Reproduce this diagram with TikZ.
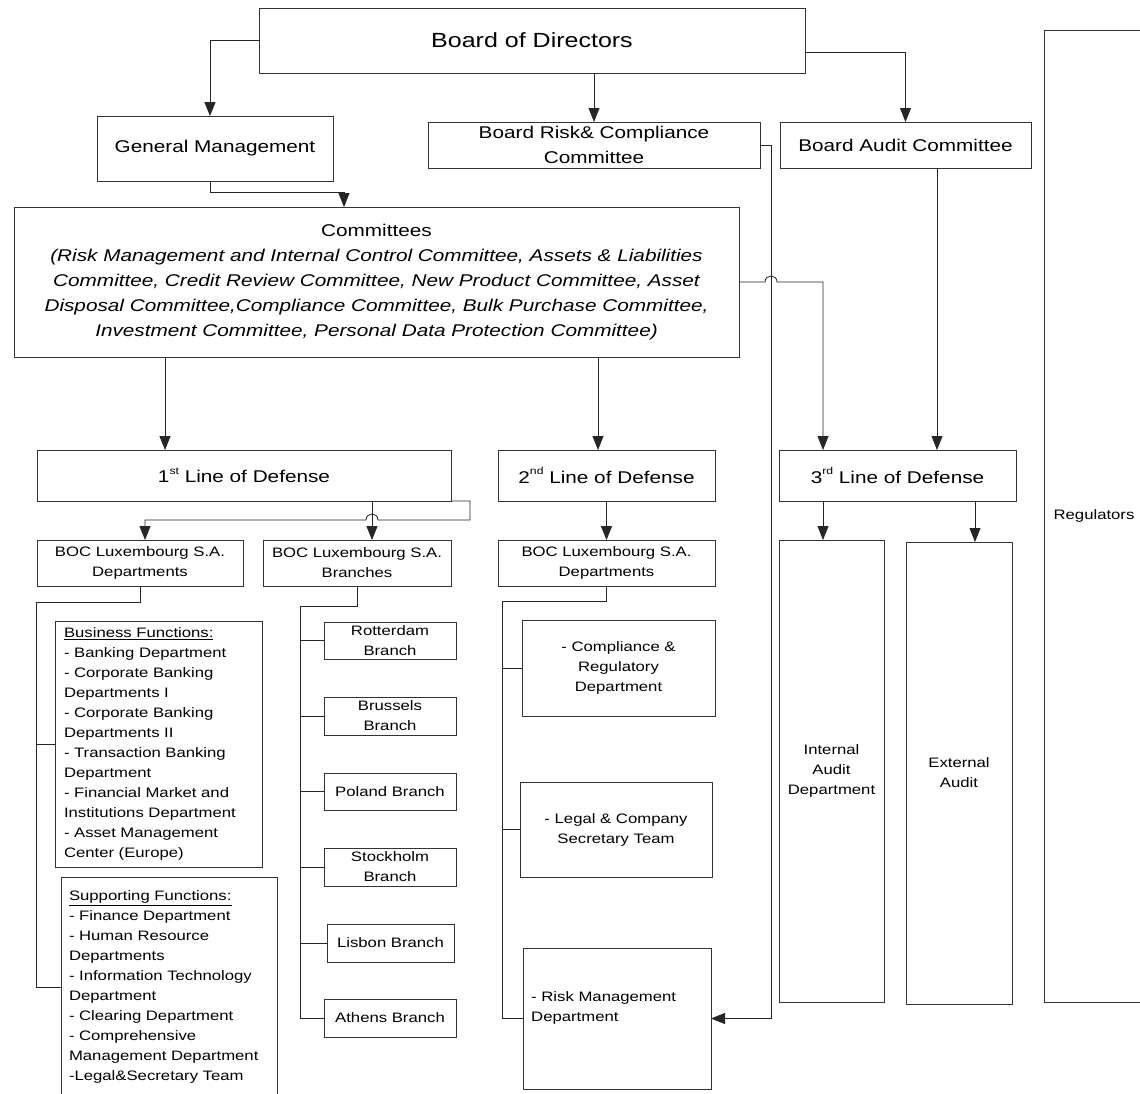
\documentclass[tikz,border=0pt]{standalone}
\usepackage{fontspec}
\setmainfont[FakeStretch=1.22]{Liberation Sans}
\usetikzlibrary{arrows.meta}
\newcommand\myfs[2]{\fontsize{#1}{#2}\selectfont}
\newcommand\supx[1]{\raisebox{0.5em}{\myfs{10}{10}#1}}
\begin{document}
\begin{tikzpicture}[x=1pt,y=-1pt,
  box/.style={draw=black!80, line width=0.8pt, inner sep=2pt, outer sep=0pt, anchor=north west, align=center, font=\myfs{13.7}{20}},
  big/.style={font=\myfs{17}{25}},
  ln/.style={draw=black!85, line width=0.8pt},
  arr/.style={ln, -{Triangle[width=11pt,length=14pt]}}]
\clip (0,0) rectangle (1140,1093);
\fill[white] (0,0) rectangle (1140,1093);
% helper coordinates
\coordinate (x140) at (140,0);
\coordinate (x145) at (145,0);
\coordinate (x165) at (165,0);
\coordinate (x210) at (210,0);
\coordinate (x300) at (300,0);
\coordinate (x344) at (344,0);
\coordinate (x372) at (372,0);
\coordinate (x502) at (502,0);
\coordinate (x598) at (598,0);
\coordinate (x771) at (771,0);
\coordinate (x823) at (823,0);
\coordinate (x937) at (937,0);
\coordinate (x975) at (975,0);
\coordinate (y52) at (0,52);
% boxes
\node[box, minimum width=546pt, minimum height=65pt, font=\myfs{20.5}{25}] (bod) at (259,8) {Board of Directors};
\node[box, big, minimum width=236pt, minimum height=65pt] (gm) at (97,116) {General Management};
\node[box, big, minimum width=332pt, minimum height=46pt, inner sep=0pt] (brc) at (428,122) {Board Risk\& Compliance\\Committee};
\node[box, big, minimum width=251pt, minimum height=46pt] (bac) at (780,122) {Board Audit Committee};
\node[box, big, minimum width=725pt, minimum height=150pt] (comm) at (14,207) {Committees\\\itshape (Risk Management and Internal Control Committee, Assets \& Liabilities\\\itshape Committee, Credit Review Committee, New Product Committee, Asset\\\itshape Disposal Committee,Compliance Committee, Bulk Purchase Committee,\\\itshape Investment Committee, Personal Data Protection Committee)};
\node[box, big, minimum width=414pt, minimum height=51pt] (l1) at (37,450) {1\supx{st} Line of Defense};
\node[box, big, minimum width=217pt, minimum height=51pt] (l2) at (498,450) {2\supx{nd} Line of Defense};
\node[box, big, minimum width=237pt, minimum height=51pt] (l3) at (779,450) {3\supx{rd} Line of Defense};
\node[box, minimum width=206pt, minimum height=46pt] (d1) at (37,540) {BOC Luxembourg S.A.\\Departments};
\node[box, minimum width=188pt, minimum height=46pt] (br) at (263,540) {BOC Luxembourg S.A.\\Branches};
\node[box, minimum width=217pt, minimum height=46pt] (d2) at (498,540) {BOC Luxembourg S.A.\\Departments};
\node[box, inner xsep=9pt, text width=189pt, align=left, minimum height=246pt] (bus) at (55,621) {\underline{Business Functions:}\\- Banking Department\\- Corporate Banking\\Departments I\\- Corporate Banking\\Departments II\\- Transaction Banking\\Department\\- Financial Market and\\Institutions Department\\- Asset Management\\Center (Europe)};
\node[box, inner xsep=8pt, text width=200pt, align=left, minimum height=220pt] (sup) at (61,877) {\underline{Supporting Functions:}\\- Finance Department\\- Human Resource\\Departments\\- Information Technology\\Department\\- Clearing Department\\- Comprehensive\\Management Department\\-Legal\&Secretary Team};
\node[box, inner sep=0pt, minimum width=132pt, minimum height=37pt] (rot) at (324,622) {Rotterdam\\Branch};
\node[box, inner sep=0pt, minimum width=132pt, minimum height=38pt] (bru) at (324,697) {Brussels\\Branch};
\node[box, minimum width=132pt, minimum height=37pt] (pol) at (324,773) {Poland Branch};
\node[box, inner sep=0pt, minimum width=132pt, minimum height=38pt] (sto) at (324,848) {Stockholm\\Branch};
\node[box, minimum width=127pt, minimum height=38pt] (lis) at (327,924) {Lisbon Branch};
\node[box, minimum width=132pt, minimum height=38pt] (ath) at (324,999) {Athens Branch};
\node[box, minimum width=193pt, minimum height=96pt] (cmp) at (522,620) {- Compliance \&\\Regulatory\\Department};
\node[box, minimum width=192pt, minimum height=95pt] (leg) at (520,782) {- Legal \& Company\\Secretary Team};
\node[box, minimum width=188pt, minimum height=141pt] (risk) at (523,948) {};
\node[anchor=west, align=left, inner sep=0pt, font=\myfs{13.7}{20}] (risklbl) at (531,1008) {- Risk Management\\Department};
\node[box, minimum width=105pt, minimum height=462pt] (ia) at (779,540) {Internal\\Audit\\Department};
\node[box, minimum width=106pt, minimum height=462pt] (ea) at (906,542) {External\\Audit};
\node[box, minimum width=100pt, minimum height=972pt] (reg) at (1044,30) {Regulators};
% connectors
\draw[arr] (bod.west) -| (gm.north -| x210);
\draw[arr] (gm.south -| x210) -- (210,192) -| (comm.north -| x344);
\draw[arr] (brc.north |- bod.south) -- (brc.north);
\draw[arr] (bod.east |- y52) -| (bac.north);
\draw[arr] (brc.east) -- (brc.east -| x771) |- (risk.east);
\draw[arr] (bac.south -| x937) -- (l3.north -| x937);
\draw[arr] (comm.east) -- (765,282) .. controls (765,274) and (777,274) .. (777,282) -| (l3.north -| x823);
\draw[arr] (comm.south -| x165) -- (l1.north -| x165);
\draw[arr] (comm.south -| x598) -- (l2.north -| x598);
\draw[arr] (l1.south east) -- (470,501) -- (470,520) -- (378,520) .. controls (378,512) and (366,512) .. (366,520) -| (d1.north -| x145);
\draw[arr] (l1.south -| x372) -- (br.north -| x372);
\draw[arr] (l2.south) -- (d2.north);
\draw[arr] (l3.south -| x823) -- (ia.north -| x823);
\draw[arr] (l3.south -| x975) -- (ea.north -| x975);
% 1st line departments tree
\draw[ln] (d1.south -| x140) -- (140,602) -- (36,602) -- (36,987) -- (sup.west);
\draw[ln] (36,744) -- (bus.west);
% branches tree
\draw[ln] (br.south) -- (357,606) -- (300,606) -- (300,1018) -- (ath.west);
\draw[ln] (x300 |- rot.west) -- (rot.west);
\draw[ln] (x300 |- bru.west) -- (bru.west);
\draw[ln] (x300 |- pol.west) -- (pol.west);
\draw[ln] (x300 |- sto.west) -- (sto.west);
\draw[ln] (x300 |- lis.west) -- (lis.west);
% 2nd line tree
\draw[ln] (d2.south) -- (606.5,601) -- (502,601) -- (502,1018.5) -- (risk.west);
\draw[ln] (x502 |- cmp.west) -- (cmp.west);
\draw[ln] (x502 |- leg.west) -- (leg.west);
\end{tikzpicture}
\end{document}
